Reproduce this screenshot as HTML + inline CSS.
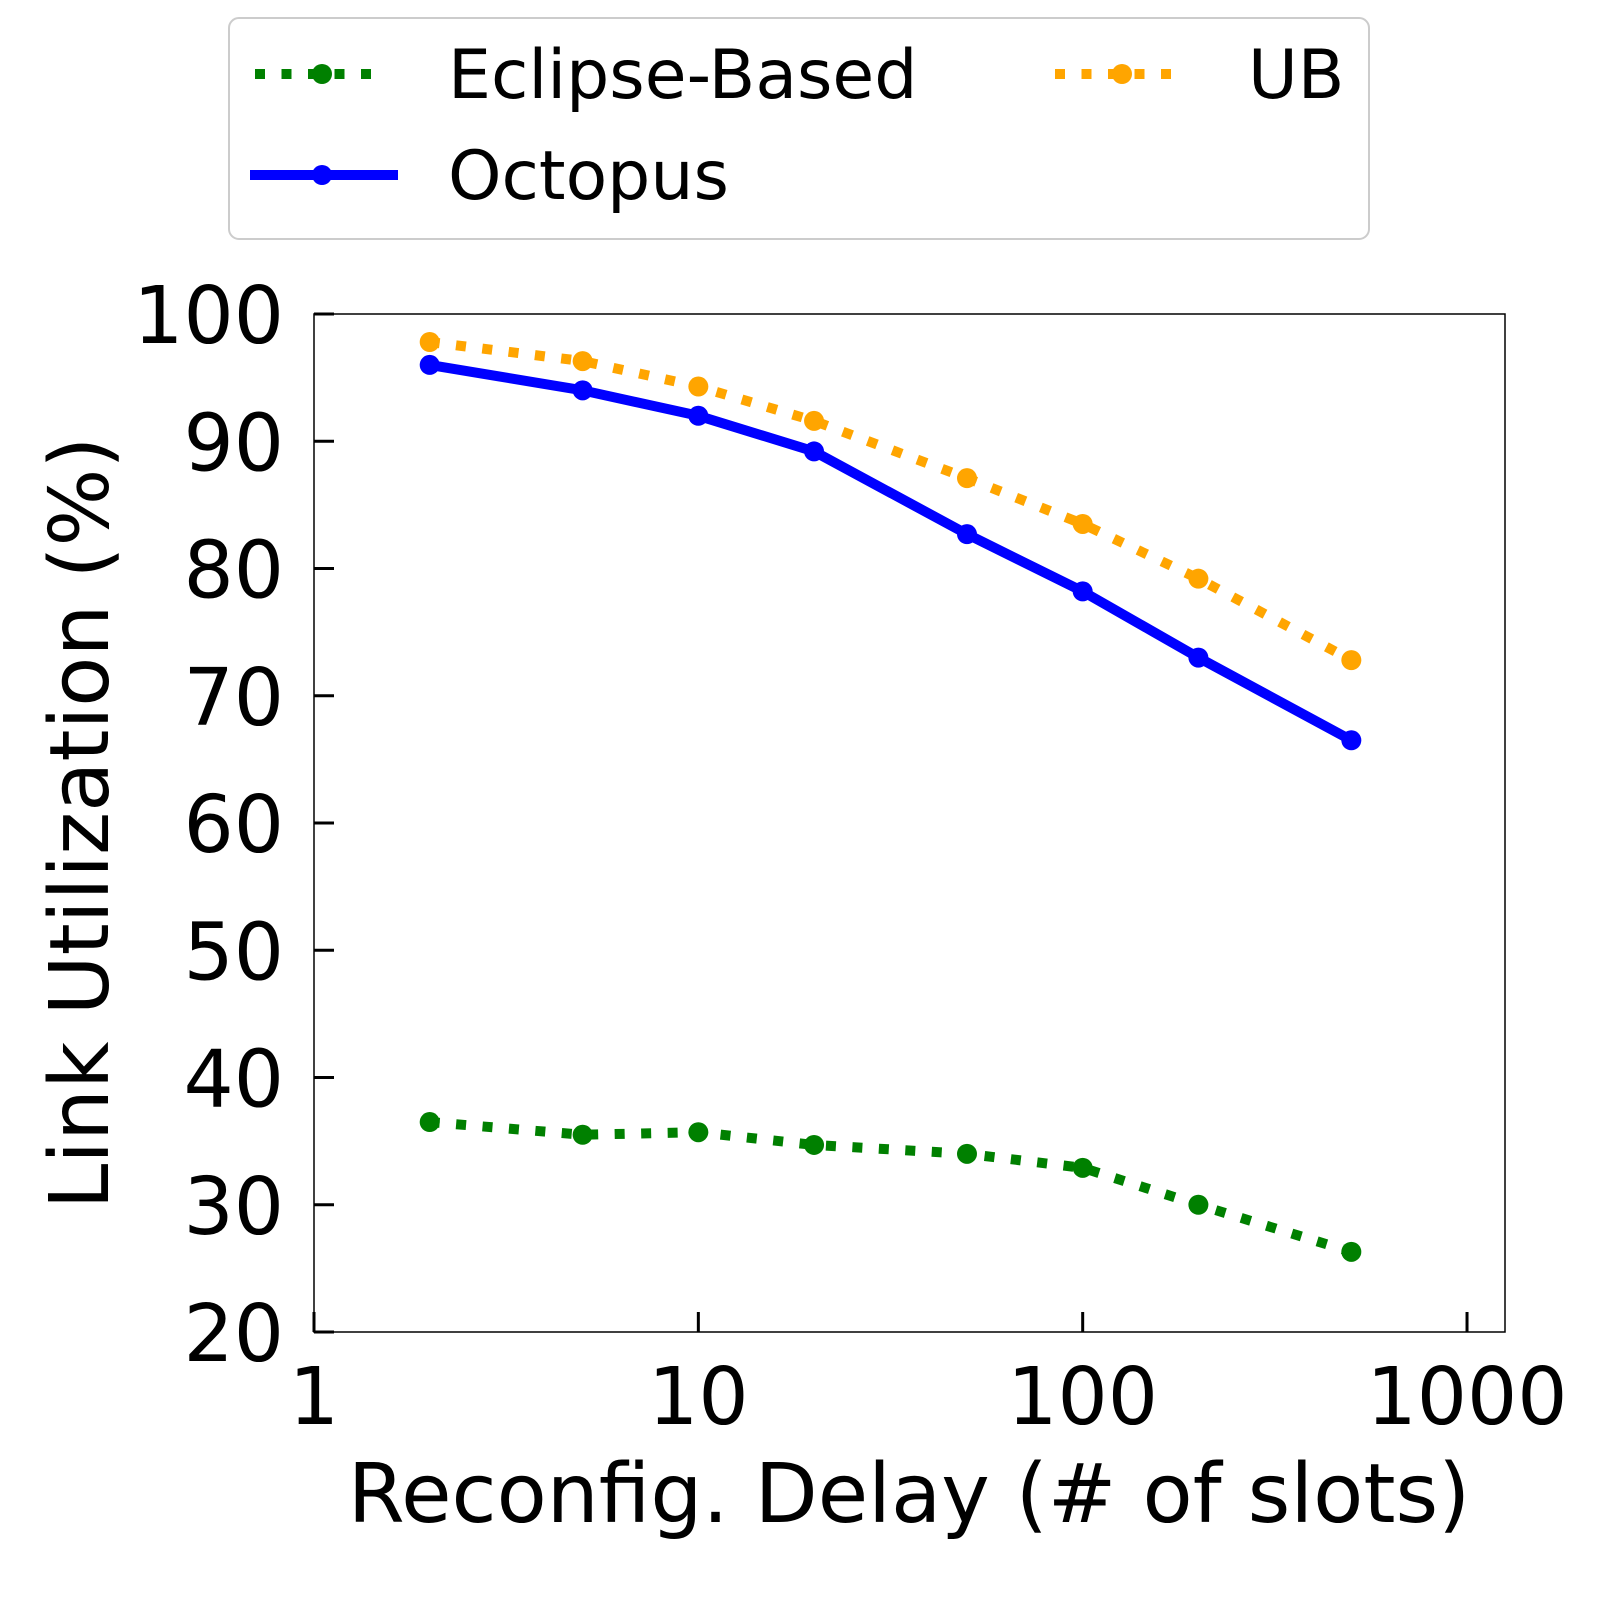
<!DOCTYPE html>
<html><head><meta charset="utf-8"><style>
body{margin:0;background:#fff}
svg{display:block;font-family:"DejaVu Sans","Liberation Sans",sans-serif}
</style></head><body>
<svg id="chart" width="1600" height="1600" viewBox="0 0 1600 1600">
<rect x="0" y="0" width="1600" height="1600" fill="#fff"/>
<g id="legend">
<rect x="229" y="18" width="1140" height="221" rx="10" fill="#fff" stroke="#ccc" stroke-width="2"/>
<g>
<line x1="255" y1="74" x2="380" y2="74" stroke="green" stroke-width="10" stroke-dasharray="10 16.5"/>
<circle cx="322" cy="74" r="10" fill="green"/>
<text x="448" y="98" font-size="68" fill="#000">Eclipse-Based</text></g>
<g>
<line x1="1055" y1="74" x2="1180" y2="74" stroke="orange" stroke-width="10" stroke-dasharray="10 16.5"/>
<circle cx="1122" cy="74" r="10" fill="orange"/>
<text x="1248" y="98" font-size="68" fill="#000">UB</text></g>
<g>
<line x1="250" y1="175" x2="398" y2="175" stroke="blue" stroke-width="10"/>
<circle cx="322" cy="175" r="10" fill="blue"/>
<text x="448" y="199" font-size="68" fill="#000">Octopus</text></g>
</g>
<g id="axes"></g>
<g id="series"></g>
<text x="909" y="1522" font-size="82" text-anchor="middle">Reconfig. Delay (# of slots)</text>
<text transform="translate(108,823) rotate(-90)" font-size="82" text-anchor="middle">Link Utilization (%)</text>
</svg>
<script>
const xValues=[2,5,10,20,50,100,200,500];
const octopus=[96,94,92,89.2,82.7,78.2,73,66.5];
const ub=[97.8,96.3,94.3,91.6,87.1,83.5,79.2,72.8];
const eclipse=[36.5,35.5,35.7,34.7,34,32.9,30,26.3];
const xTicks=[1,10,100,1000];
const xTickLabels=["1","10","100","1000"];
const yTicks=[20,30,40,50,60,70,80,90,100];
const yTickLabels=["20","30","40","50","60","70","80","90","100"];

const NS="http://www.w3.org/2000/svg";
const L=314,R=1505,T=314,B=1332;
const xMin=0,xMax=3.0988;
function xs(v){return L+(Math.log10(v)-xMin)/(xMax-xMin)*(R-L);}
function ys(v){return B-(v-20)/80*(B-T);}
function mk(tag,attrs,parent){const e=document.createElementNS(NS,tag);for(const k in attrs)e.setAttribute(k,attrs[k]);parent.appendChild(e);return e;}
const ax=document.getElementById('axes');
const frame=mk('rect',{x:L,y:T,width:R-L,height:B-T,fill:'none',stroke:'#000','stroke-width':1.5},ax);


yTicks.forEach((v,i)=>{
  const t=mk('line',{x1:L,x2:L+20,y1:ys(v),y2:ys(v),stroke:'#000','stroke-width':3},ax);
  
  
  const tx=mk('text',{x:L-30,y:ys(v)+29,'font-size':79,'text-anchor':'end'},ax);
  tx.textContent=yTickLabels[i];
  
  
});
xTicks.forEach((v,i)=>{
  const t=mk('line',{x1:xs(v),x2:xs(v),y1:B,y2:B-20,stroke:'#000','stroke-width':3},ax);
  
  
  const tx=mk('text',{x:xs(v),y:B+92,'font-size':79,'text-anchor':'middle'},ax);
  tx.textContent=xTickLabels[i];
  
  
});
const sg=document.getElementById('series');
function series(vals,color,dash,name){
  const g=mk('g',{},sg);
  
  
  const pts=vals.map((v,i)=>xs(xValues[i])+','+ys(v)).join(' ');
  const a={points:pts,fill:'none',stroke:color,'stroke-width':10,'stroke-linejoin':'round'};
  if(dash)a['stroke-dasharray']='10 16.5';
  mk('polyline',a,g);
  vals.forEach((v,i)=>{
    const c=mk('circle',{cx:xs(xValues[i]),cy:ys(v),r:10,fill:color},g);
    
    
  });
}
series(eclipse,'green',true,'eclipse-based-series');
series(ub,'orange',true,'ub-series');
series(octopus,'blue',false,'octopus-series');
</script>
</body></html>
